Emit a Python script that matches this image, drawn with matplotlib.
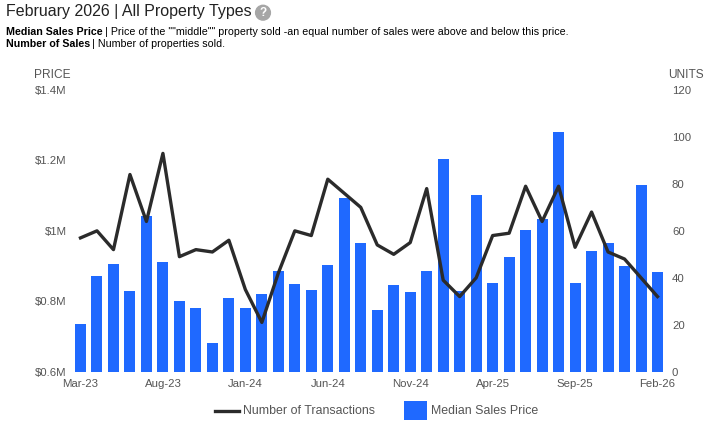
import matplotlib
matplotlib.use('Agg')
import matplotlib.pyplot as plt
from matplotlib.patches import Circle

plt.rcParams['font.family'] = ['Liberation Sans', 'DejaVu Sans']

# Months, one per bar
months = ['Mar-23', 'Apr-23', 'May-23', 'Jun-23', 'Jul-23', 'Aug-23', 'Sep-23', 'Oct-23', 'Nov-23',
          'Dec-23', 'Jan-24', 'Feb-24', 'Mar-24', 'Apr-24', 'May-24', 'Jun-24', 'Jul-24', 'Aug-24',
          'Sep-24', 'Oct-24', 'Nov-24', 'Dec-24', 'Jan-25', 'Feb-25', 'Mar-25', 'Apr-25', 'May-25',
          'Jun-25', 'Jul-25', 'Aug-25', 'Sep-25', 'Oct-25', 'Nov-25', 'Dec-25', 'Jan-26', 'Feb-26']

# Median sales price, in $M
price = [0.736, 0.872, 0.906, 0.830, 1.043, 0.912, 0.801, 0.781, 0.682,
         0.810, 0.781, 0.821, 0.887, 0.850, 0.832, 0.904, 1.094, 0.966,
         0.776, 0.847, 0.827, 0.887, 1.203, 0.830, 1.103, 0.852, 0.926,
         1.003, 1.035, 1.282, 0.852, 0.943, 0.966, 0.901, 1.131, 0.884]

# Number of transactions
units = [57, 60, 52, 84, 64, 93, 49, 52, 51, 56, 35, 21, 42, 60, 58, 82, 76, 70,
         54, 50, 55, 78, 39, 32, 40, 58, 59, 79, 64, 79, 53, 68, 51, 48, 40, 32]

price_ticks = [0.6, 0.8, 1.0, 1.2, 1.4]
price_labels = ['$0.6M', '$0.8M', '$1M', '$1.2M', '$1.4M']
unit_ticks = [0, 20, 40, 60, 80, 100, 120]

W, H = 712, 426
gray = '#555555'
x = list(range(len(months)))

fig = plt.figure(figsize=(W / 100, H / 100), dpi=100)
ax = fig.add_axes([72.25 / W, 1 - 371.7 / H, 593.5 / W, 281.7 / H])

bars = ax.bar(x, price, width=0.667, bottom=0, color='#1f69ff', label='Median Sales Price')
ax.set_ylim(0.6, 1.4)
ax.set_xlim(-0.5, len(months) - 0.5)
ax.set_yticks(price_ticks)
ax.set_yticklabels(price_labels)
ax.set_xticks(x[::5])
ax.set_xticklabels(months[::5])
ax.tick_params(axis='both', length=0, labelsize=8.2, labelcolor=gray)
ax.tick_params(axis='y', pad=4)
ax.tick_params(axis='x', pad=5)

ax2 = ax.twinx()
line, = ax2.plot(x, units, color='#2b2b2b', linewidth=2.4, label='Number of Transactions')
ax2.set_ylim(0, 120)
ax2.set_yticks(unit_ticks)
ax2.tick_params(axis='y', length=0, labelsize=8.2, labelcolor=gray, pad=4.5)

for a in (ax, ax2):
    for s in a.spines.values():
        s.set_visible(False)

# Header text
fig.text(6 / W, 1 - 11.5 / H, 'February 2026 | All Property Types', fontsize=11.5, color='#222222', va='center')
fig.text(6 / W, 1 - 32 / H, 'Median Sales Price', fontsize=7.7, fontweight='bold', color='black', va='center')
fig.text(105 / W, 1 - 32 / H, '| Price of the ""middle"" property sold -an equal number of sales were above and below this price.',
         fontsize=7.7, color='black', va='center')
fig.text(6 / W, 1 - 44 / H, 'Number of Sales', fontsize=7.7, fontweight='bold', color='black', va='center')
fig.text(92.5 / W, 1 - 44 / H, '| Number of properties sold.', fontsize=7.7, color='black', va='center')

# Help icon
fig.add_artist(Circle((263, H - 12.7), 7.4, transform=None, color='#a6a6a6'))
fig.text(263 / W, 1 - 12.7 / H, '?', fontsize=8.5, fontweight='bold', color='white', ha='center', va='center')

# Axis captions
fig.text(52 / W, 1 - 74.5 / H, 'PRICE', fontsize=8.6, color=gray, ha='center', va='center')
fig.text(686 / W, 1 - 74.5 / H, 'UNITS', fontsize=8.6, color=gray, ha='center', va='center')

leg = fig.legend([line, bars], ['Number of Transactions', 'Median Sales Price'], ncol=2, frameon=False,
                 loc='center', bbox_to_anchor=(377 / W, 1 - 410.5 / H), fontsize=8.9, labelcolor=gray,
                 handlelength=1.9, handleheight=1.95, handletextpad=0.35, columnspacing=2.3)

# Legend line sits a bit high next to its label, push it down
leg_line = leg.legend_handles[0]
leg_line.set_ydata([y - 2.2 for y in leg_line.get_ydata()])

fig.savefig('out.png', dpi=100)
